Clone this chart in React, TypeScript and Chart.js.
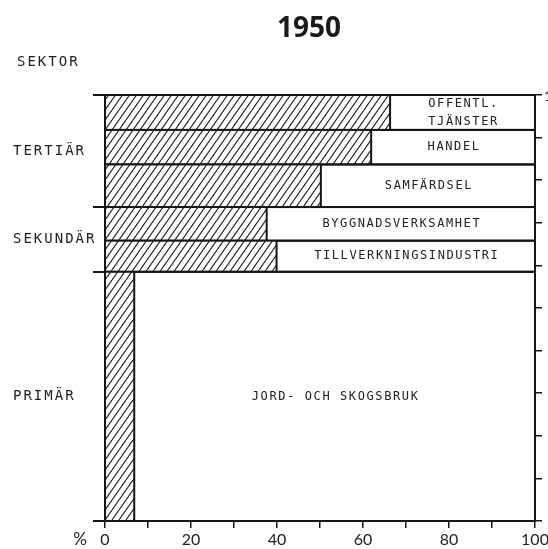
import React, { useEffect, useRef } from 'react';
import { Chart, registerables } from 'chart.js';

Chart.register(...registerables);

// ---- data ----
const chartTitle = '1950';
const sectorLabels: string[][] = [
  ['OFFENTL.', 'TJÄNSTER'],
  ['HANDEL'],
  ['SAMFÄRDSEL'],
  ['BYGGNADSVERKSAMHET'],
  ['TILLVERKNINGSINDUSTRI'],
  ['JORD- OCH SKOGSBRUK'],
];
// share of all employed (row height, %), top to bottom
const sectorShares = [8.2, 8.1, 10.0, 7.9, 7.3, 58.5];
// hatched part of each row (%)
const hatchedShares = [66.3, 61.9, 50.2, 37.6, 39.9, 6.8];
const groupNames = ['TERTIÄR', 'SEKUNDÄR', 'PRIMÄR'];
const groupSizes = [3, 2, 1];
const axisTitle = 'SEKTOR';
const xUnit = '%';
const xTickValues = [0, 10, 20, 30, 40, 50, 60, 70, 80, 90, 100];
const xLabelValues = [0, 20, 40, 60, 80, 100];
const rightTopLabel = '100';

const INK = '#151515';
const TEXT = '#222';

function rowsFromShares() {
  let top = 100;
  return sectorShares.map((s, i) => {
    const r = { top, bottom: top - s, hatched: hatchedShares[i], label: sectorLabels[i] };
    top -= s;
    return r;
  });
}

function groupBoundaries() {
  const rows = rowsFromShares();
  const b: number[] = [100];
  let idx = 0;
  groupSizes.forEach((n) => {
    idx += n;
    b.push(Math.max(0, rows[idx - 1].bottom));
  });
  return b;
}

function makeHatch(): CanvasPattern | string {
  const w = 7, h = 10;
  const c = document.createElement('canvas');
  c.width = w; c.height = h;
  const g = c.getContext('2d');
  if (!g) return '#fff';
  g.fillStyle = '#fff';
  g.fillRect(0, 0, w, h);
  g.strokeStyle = '#1a1a1a';
  g.lineWidth = 1.1;
  for (const k of [-1, 0, 1]) {
    g.beginPath();
    g.moveTo(k * w, h);
    g.lineTo(k * w + w, 0);
    g.stroke();
  }
  const p = g.createPattern(c, 'repeat');
  return p || '#fff';
}

const drawPlugin = {
  id: 'sectorRows',
  afterDatasetsDraw(chart: any) {
    const ctx: CanvasRenderingContext2D = chart.ctx;
    const xs = chart.scales.x;
    const ys = chart.scales.y;
    const rows = rowsFromShares();
    const hatch = makeHatch();
    ctx.save();
    const x0 = xs.getPixelForValue(0);
    const x1 = xs.getPixelForValue(100);
    rows.forEach((r) => {
      const yt = ys.getPixelForValue(r.top);
      const yb = ys.getPixelForValue(r.bottom);
      const xh = xs.getPixelForValue(r.hatched);
      ctx.fillStyle = hatch as any;
      ctx.fillRect(x0, yt, xh - x0, yb - yt);
      ctx.strokeStyle = INK;
      ctx.lineWidth = 2;
      ctx.strokeRect(x0, yt, x1 - x0, yb - yt);
      ctx.beginPath();
      ctx.moveTo(xh, yt);
      ctx.lineTo(xh, yb);
      ctx.stroke();
      // label
      ctx.fillStyle = TEXT;
      ctx.font = '12px "DejaVu Sans Mono"';
      (ctx as any).letterSpacing = '1.6px';
      ctx.textAlign = 'center';
      ctx.textBaseline = 'middle';
      const cx = (xh + x1) / 2 + 1;
      const cy = (yt + yb) / 2;
      const lh = 18;
      r.label.forEach((line, li) => {
        ctx.fillText(line, cx, cy + (li - (r.label.length - 1) / 2) * lh);
      });
    });

    // group labels
    ctx.font = '14px "DejaVu Sans Mono"';
    (ctx as any).letterSpacing = '2px';
    ctx.textAlign = 'left';
    ctx.textBaseline = 'middle';
    ctx.fillStyle = TEXT;
    const gb = groupBoundaries();
    groupNames.forEach((g, i) => {
      const yt = ys.getPixelForValue(gb[i]);
      const yb = ys.getPixelForValue(gb[i + 1]);
      ctx.fillText(g, 13, (yt + yb) / 2);
    });
    ctx.fillText(axisTitle, 17, 62);

    // right top label (clipped by the edge as in the source)
    ctx.font = '14px Lato';
    (ctx as any).letterSpacing = '0px';
    ctx.fillText(rightTopLabel, 544, ys.getPixelForValue(100) + 1);

    // unit
    ctx.font = '17px Lato';
    ctx.textAlign = 'center';
    ctx.fillText(xUnit, 80, 540);

    // title
    ctx.font = 'bold 28px "Open Sans"';
    ctx.textAlign = 'center';
    ctx.textBaseline = 'alphabetic';
    ctx.fillStyle = '#1a1a1a';
    ctx.fillText(chartTitle, 309, 37);
    ctx.restore();
  },
};

export default function App() {
  const ref = useRef<HTMLCanvasElement | null>(null);
  useEffect(() => {
    if (!ref.current) return;
    const chart = new Chart(ref.current, {
      type: 'scatter',
      data: { datasets: [{ data: [], pointRadius: 0 }] },
      options: {
        animation: false,
        responsive: true,
        maintainAspectRatio: false,
        layout: { padding: { left: 93, right: 0, top: 95, bottom: 0 }, autoPadding: false } as any,
        plugins: { legend: { display: false }, tooltip: { enabled: false }, title: { display: false } },
        scales: {
          x: {
            type: 'linear',
            position: 'bottom',
            min: 0,
            max: 100,
            afterBuildTicks: (s: any) => {
              s.ticks = xTickValues.map((v) => ({ value: v }));
            },
            afterFit: (s: any) => {
              s.height = 28;
              s.paddingLeft = 0;
              s.paddingRight = 0;
            },
            ticks: {
              autoSkip: false,
              maxRotation: 0,
              padding: 2,
              color: TEXT,
              font: { family: 'Lato', size: 16 },
              callback: (v: any) => (xLabelValues.includes(Number(v)) ? String(v) : ''),
            },
            grid: { drawOnChartArea: false, drawTicks: true, tickLength: 7, color: INK, lineWidth: 1.5 },
            border: { display: true, color: INK, width: 2 },
          },
          y: {
            type: 'linear',
            position: 'left',
            min: 0,
            max: 100,
            afterBuildTicks: (s: any) => {
              s.ticks = groupBoundaries().map((v) => ({ value: v }));
            },
            afterFit: (s: any) => {
              s.width = 12;
              s.paddingTop = 0;
              s.paddingBottom = 0;
            },
            ticks: { display: false },
            grid: { drawOnChartArea: false, drawTicks: true, tickLength: 12, color: INK, lineWidth: 2 },
            border: { display: true, color: INK, width: 2 },
          },
          y2: {
            type: 'linear',
            position: 'right',
            min: 0,
            max: 100,
            afterBuildTicks: (s: any) => {
              s.ticks = xTickValues.map((v) => ({ value: v }));
            },
            afterFit: (s: any) => {
              s.width = 13;
              s.paddingTop = 0;
              s.paddingBottom = 0;
            },
            ticks: { display: false },
            grid: { drawOnChartArea: false, drawTicks: true, tickLength: 7, color: INK, lineWidth: 1.5 },
            border: { display: true, color: INK, width: 2 },
          },
        },
      } as any,
      plugins: [drawPlugin],
    });
    return () => chart.destroy();
  }, []);
  return (
    <div style={{ position: 'absolute', left: 0, top: 0, width: 548, height: 549, background: '#fff' }}>
      <canvas ref={ref} />
    </div>
  );
}
